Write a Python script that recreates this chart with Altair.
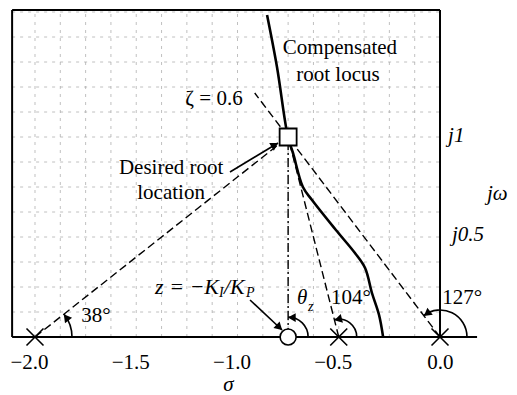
import math
import altair as alt
import pandas as pd

FONT = "Liberation Serif"

# ---------------- data ----------------
# compensated root locus (sigma, omega)
locus_sigma = [-0.854, -0.805, -0.751, -0.726, -0.677, -0.632, -0.514, -0.42, -0.37, -0.336, -0.301, -0.281]
locus_omega = [1.61, 1.35, 1.0, 0.92, 0.75, 0.685, 0.535, 0.42, 0.345, 0.22, 0.11, 0.0]

pole_sigma = [-2.0, -0.5, 0.0]
zero_sigma = [-0.75]
desired_sigma = [-0.75]
desired_omega = [1.0]

# dashed construction lines (from pole to desired root / zeta line)
dash_x1 = [-2.0, -0.5, 0.0]
dash_y1 = [0.0, 0.0, 0.0]
dash_x2 = [-0.75, -0.75, -0.915]
dash_y2 = [1.0, 1.0, 1.22]

# angle arcs
arc_center = [-2.0, -0.75, -0.5, 0.0]
arc_angle = [38, 90, 104, 127]

# grid lines
grid_sigma = [-2.0, -1.875, -1.75, -1.625, -1.5, -1.375, -1.25, -1.125, -1.0,
              -0.875, -0.75, -0.625, -0.5, -0.375, -0.25, -0.125]
grid_omega = [0.125, 0.25, 0.375, 0.5, 0.625, 0.75, 0.875, 1.0, 1.125, 1.25,
              1.375, 1.5, 1.625]

tick_values = [-2.0, -1.5, -1.0, -0.5, 0.0]

# ---------------- layout constants ----------------
W, H = 501, 329
SIG_MIN, SIG_MAX = -2.1333, 0.3407
OM_MIN, OM_MAX = 0.0, 1.645
PX_X = W / (SIG_MAX - SIG_MIN)
PX_Y = H / (OM_MAX - OM_MIN)
FRAME_LEFT, FRAME_TOP, AXIS_RIGHT = -2.113, 1.635, 0.183
arc_radius_px = [37, 20, 18, 27]

xs = alt.Scale(domain=[SIG_MIN, SIG_MAX], nice=False, zero=False)
ys = alt.Scale(domain=[OM_MIN, OM_MAX], nice=False, zero=False)

xaxis = alt.Axis(
    values=tick_values, format=".1f", domain=False, ticks=False, tickSize=0, grid=False,
    labelFont=FONT, labelFontSize=21, labelColor="black", labelPadding=14,
    labelAlign="right", labelOffset=13,
    title="σ", titleFont=FONT, titleFontSize=21, titleFontStyle="italic",
    titleFontWeight="normal", titleColor="black", titleX=220, titleY=53,
    titleBaseline="alphabetic", titleAlign="center",
)


def X(f):
    return alt.X(f, type="quantitative", scale=xs, axis=xaxis)


def Y(f):
    return alt.Y(f, type="quantitative", scale=ys, axis=None)


def X2(f):
    return alt.X2(f)


def Y2(f):
    return alt.Y2(f)


# ---------------- grid ----------------
gv = pd.DataFrame({"x": grid_sigma, "y": 0.0, "y2": FRAME_TOP})
gh = pd.DataFrame({"y": grid_omega, "x": FRAME_LEFT, "x2": 0.0})
grid_style = dict(color="#b0b0b0", strokeWidth=0.8, strokeDash=[3, 5])

grid_v = alt.Chart(gv).mark_rule(**grid_style).encode(x=X("x"), y=Y("y"), y2=Y2("y2"))
grid_h = alt.Chart(gh).mark_rule(**grid_style).encode(x=X("x"), x2=X2("x2"), y=Y("y"))

# ---------------- frame / axes ----------------
frame_df = pd.DataFrame({
    "x": [FRAME_LEFT, FRAME_LEFT, 0.0, FRAME_LEFT],
    "x2": [FRAME_LEFT, 0.0, 0.0, AXIS_RIGHT],
    "y": [0.0, FRAME_TOP, 0.0, 0.0],
    "y2": [FRAME_TOP, FRAME_TOP, FRAME_TOP, 0.0],
})
frame = alt.Chart(frame_df).mark_rule(color="black", strokeWidth=2).encode(
    x=X("x"), x2=X2("x2"), y=Y("y"), y2=Y2("y2"))

# ---------------- dashed lines ----------------
dash_df = pd.DataFrame({"x": dash_x1, "y": dash_y1, "x2": dash_x2, "y2": dash_y2})
dashed = alt.Chart(dash_df).mark_rule(color="black", strokeWidth=1.4, strokeDash=[8, 4]).encode(
    x=X("x"), x2=X2("x2"), y=Y("y"), y2=Y2("y2"))

dd_df = pd.DataFrame({"x": zero_sigma, "y": [0.0], "y2": desired_omega})
dashdot = alt.Chart(dd_df).mark_rule(color="black", strokeWidth=1.4, strokeDash=[9, 3, 2, 3]).encode(
    x=X("x"), y=Y("y"), y2=Y2("y2"))

# ---------------- root locus ----------------
loc_df = pd.DataFrame({"x": locus_sigma, "y": locus_omega, "o": list(range(len(locus_sigma)))})
locus = alt.Chart(loc_df).mark_line(color="black", strokeWidth=2.6, interpolate="catmull-rom").encode(
    x=X("x"), y=Y("y"), order="o:Q")

# ---------------- angle arcs ----------------
arc_df = pd.DataFrame({
    "x": arc_center, "y": 0.0, "r": arc_radius_px,
    "t1": [math.pi / 2 - math.radians(a) + 2 * math.pi for a in arc_angle],
    "t2": [math.pi / 2 + 2 * math.pi for _ in arc_angle],
})
arcs = alt.Chart(arc_df).mark_arc(stroke="black", strokeWidth=1.6, fillOpacity=0).encode(
    x=X("x"), y=Y("y"),
    radius=alt.Radius("r:Q", scale=None), radius2=alt.Radius2("r:Q"),
    theta=alt.Theta("t1:Q", scale=None), theta2=alt.Theta2("t2:Q"))

# arrowheads at the end of each arc
ah_x, ah_y, ah_a = [], [], []
for c, a, r in zip(arc_center, arc_angle, arc_radius_px):
    ac = math.radians(a) - 5.0 / r
    ah_x.append(c + r * math.cos(ac) / PX_X)
    ah_y.append(r * math.sin(ac) / PX_Y)
    ah_a.append((360 - a) % 360)

# annotation arrows
arr_x1 = [-1.037, -0.938]
arr_y1 = [0.825, 0.185]
arr_x2 = [-0.80, -0.78]
arr_y2 = [0.97, 0.035]
arr_df = pd.DataFrame({"x": arr_x1, "y": arr_y1, "x2": arr_x2, "y2": arr_y2})
arrows = alt.Chart(arr_df).mark_rule(color="black", strokeWidth=1.6).encode(
    x=X("x"), x2=X2("x2"), y=Y("y"), y2=Y2("y2"))
for x1, y1, x2, y2 in zip(arr_x1, arr_y1, arr_x2, arr_y2):
    dx = (x2 - x1) * PX_X
    dy = -(y2 - y1) * PX_Y
    n = math.hypot(dx, dy)
    ah_x.append(x2 - 5 * dx / n / PX_X)
    ah_y.append(y2 + 5 * dy / n / PX_Y)
    ah_a.append(math.degrees(math.atan2(dx, -dy)) % 360)

head_df = pd.DataFrame({"x": ah_x, "y": ah_y, "a": ah_a})
heads = alt.Chart(head_df).mark_point(shape="triangle", filled=True, color="black", opacity=1, size=80).encode(
    x=X("x"), y=Y("y"), angle=alt.Angle("a:Q", scale=None))

# ---------------- markers ----------------
poles = alt.Chart(pd.DataFrame({"x": pole_sigma, "y": 0.0})).mark_point(
    shape="M-1,-1L1,1M-1,1L1,-1", filled=False, color="black", strokeWidth=1.6, size=289, opacity=1
).encode(x=X("x"), y=Y("y"))
zeros = alt.Chart(pd.DataFrame({"x": zero_sigma, "y": 0.0})).mark_point(
    shape="circle", filled=True, fill="white", stroke="black", strokeWidth=1.6, size=256, opacity=1
).encode(x=X("x"), y=Y("y"))
desired = alt.Chart(pd.DataFrame({"x": desired_sigma, "y": desired_omega})).mark_point(
    shape="square", filled=True, fill="white", stroke="black", strokeWidth=1.8, size=289, opacity=1
).encode(x=X("x"), y=Y("y"))


# ---------------- text ----------------
def texts(xv, yv, tv, align="center", size=21, style="normal"):
    df = pd.DataFrame({"x": xv, "y": yv, "t": tv})
    return alt.Chart(df).mark_text(
        font=FONT, fontSize=size, fontStyle=style, align=align, baseline="middle", color="black"
    ).encode(x=X("x"), y=Y("y"), text="t:N")


t_center = texts(
    [-0.494, -0.504, -1.116, -1.328, -1.328, -0.44, 0.109, -1.699],
    [1.445, 1.31, 1.19, 0.845, 0.72, 0.195, 0.195, 0.105],
    ["Compensated", "root locus", "ζ = 0.6", "Desired root", "location", "104°", "127°", "38°"])
t_j = texts([0.04, 0.059, 0.232], [1.005, 0.51, 0.715], ["j1", "j0.5", "jω"], align="left", style="italic")
t_theta = texts([-0.681], [0.195], ["θ"], style="italic")
t_sub = texts([-0.652, -1.091, -0.958], [0.15, 0.22, 0.22], ["z", "I", "P"], align="left", size=14, style="italic")
t_z = texts([-1.407, -1.067], [0.25, 0.25], ["z = −K", "/K"], align="left", size=22, style="italic")

chart = alt.layer(
    grid_v, grid_h, dashed, dashdot, locus, frame, arcs, arrows, heads,
    poles, zeros, desired, t_center, t_j, t_theta, t_sub, t_z
).properties(
    width=W, height=H,
    autosize=alt.AutoSizeParams(type="none"),
    padding={"left": 0, "top": 0, "right": 0, "bottom": 58},
    background="white",
).configure_view(stroke=None)

chart.save("out.html", embed_options={"renderer": "svg", "actions": False})
